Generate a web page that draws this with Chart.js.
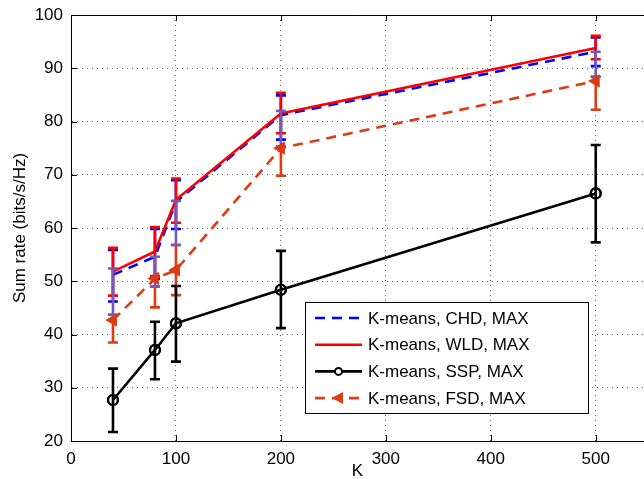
<!DOCTYPE html>
<html>
<head>
<meta charset="utf-8">
<script src="https://cdn.jsdelivr.net/npm/chart.js@4/dist/chart.umd.min.js"></script>
<style>
  html, body { margin: 0; padding: 0; background: #fff; }
  #wrap { width: 644px; height: 479px; position: relative; }
</style>
</head>
<body>
<div id="wrap"><canvas id="chart"></canvas></div>
<script>
// K values on the x axis
const kValues = [40, 80, 100, 200, 500];
const xTicks = [0, 100, 200, 300, 400, 500];
const yTicks = [20, 30, 40, 50, 60, 70, 80, 90, 100];

// K-means, CHD, MAX
const chd = [51.2, 54.6, 64.9, 81.2, 93.1];
const chdLo = [46.2, 50.5, 59.8, 76.6, 90.4];
const chdHi = [55.9, 59.8, 69.0, 84.9, 95.8];

// K-means, WLD, MAX
const wld = [51.8, 55.6, 65.3, 81.5, 93.8];
const wldLo = [47.3, 51.0, 61.0, 77.8, 91.7];
const wldHi = [56.3, 60.2, 69.3, 85.4, 96.1];

// K-means, SSP, MAX
const ssp = [27.7, 37.1, 42.1, 48.4, 66.5];
const sspLo = [21.7, 31.6, 34.9, 41.2, 57.3];
const sspHi = [33.6, 42.4, 49.1, 55.7, 75.6];

// K-means, FSD, MAX
const fsd = [42.7, 50.5, 52.1, 75.0, 87.6];
const fsdLo = [38.5, 45.1, 47.4, 69.8, 82.2];
const fsdHi = [43.7, 49.0, 56.8, 75.3, 88.4];

// purple overlap bars (from FSD top up to CHD centre)
const midLo = [43.7, 49.0, 56.8, 75.3, 88.4];
const midHi = [52.4, 54.6, 65.1, 82.0, 93.1];

const BLUE = '#0000ff';
const RED = '#ff0000';
const BLACK = '#000000';
const ORANGE = '#dc3b14';
const PURPLE = '#7459b7';
const FONT = '"Liberation Sans", Arial, Helvetica, sans-serif';

const toPoints = vals => kValues.map((k, i) => ({ x: k, y: vals[i] }));

const datasets = [
    {
        label: 'K-means, CHD, MAX',
        data: toPoints(chd),
        borderColor: BLUE,
        borderWidth: 2.6,
        borderDash: [10, 7],
        pointRadius: 0,
        order: 1,
        errLo: chdLo, errHi: chdHi
    },
    {
        label: 'K-means, WLD, MAX',
        data: toPoints(wld),
        borderColor: RED,
        borderWidth: 2.6,
        pointRadius: 0,
        order: 0,
        errLo: wldLo, errHi: wldHi
    },
    {
        label: 'K-means, SSP, MAX',
        data: toPoints(ssp),
        borderColor: BLACK,
        borderWidth: 2.6,
        pointStyle: 'circle',
        pointRadius: 5,
        pointBorderWidth: 2.2,
        pointBackgroundColor: 'rgba(0,0,0,0)',
        pointBorderColor: BLACK,
        order: 3,
        errLo: sspLo, errHi: sspHi
    },
    {
        label: 'K-means, FSD, MAX',
        data: toPoints(fsd),
        borderColor: ORANGE,
        borderWidth: 2.6,
        borderDash: [10, 7],
        pointStyle: 'triangle',
        pointRotation: 270,
        pointRadius: 6,
        pointBorderWidth: 1.5,
        pointBackgroundColor: ORANGE,
        pointBorderColor: ORANGE,
        order: 2,
        errLo: fsdLo, errHi: fsdHi
    }
];

function drawBar(ctx, x, yScale, lo, hi, color) {
    const yl = yScale.getPixelForValue(lo);
    const yh = yScale.getPixelForValue(hi);
    ctx.strokeStyle = color;
    ctx.lineWidth = 2.6;
    ctx.setLineDash([]);
    ctx.beginPath();
    ctx.moveTo(x, yl); ctx.lineTo(x, yh);
    ctx.moveTo(x - 5, yl); ctx.lineTo(x + 5, yl);
    ctx.moveTo(x - 5, yh); ctx.lineTo(x + 5, yh);
    ctx.stroke();
}

const extras = {
    id: 'extras',
    beforeDatasetsDraw(chart) {
        const { ctx, chartArea: a, scales: { x, y } } = chart;
        ctx.save();
        ctx.strokeStyle = '#000';
        ctx.lineWidth = 1;
        // top frame line
        ctx.beginPath();
        ctx.moveTo(a.left, a.top + 0.5); ctx.lineTo(a.right, a.top + 0.5);
        ctx.stroke();
        // inward ticks
        ctx.beginPath();
        xTicks.forEach(t => {
            const px = Math.round(x.getPixelForValue(t)) + 0.5;
            ctx.moveTo(px, a.bottom); ctx.lineTo(px, a.bottom - 6);
            ctx.moveTo(px, a.top); ctx.lineTo(px, a.top + 6);
        });
        yTicks.forEach(t => {
            const py = Math.round(y.getPixelForValue(t)) + 0.5;
            ctx.moveTo(a.left, py); ctx.lineTo(a.left + 6, py);
        });
        ctx.stroke();
        ctx.restore();
    },
    afterDatasetsDraw(chart) {
        const { ctx, scales: { x, y } } = chart;
        ctx.save();
        const order = [0, 1, 3];
        order.forEach(di => {
            const ds = chart.data.datasets[di];
            kValues.forEach((k, i) => {
                drawBar(ctx, x.getPixelForValue(k), y, ds.errLo[i], ds.errHi[i], ds.borderColor);
            });
        });
        kValues.forEach((k, i) => {
            drawBar(ctx, x.getPixelForValue(k), y, midLo[i], midHi[i], PURPLE);
        });
        const ssp = chart.data.datasets[2];
        kValues.forEach((k, i) => {
            drawBar(ctx, x.getPixelForValue(k), y, ssp.errLo[i], ssp.errHi[i], BLACK);
        });
        // redraw markers on top of the bars
        [2, 3].forEach(di => {
            chart.getDatasetMeta(di).data.forEach(pt => pt.draw(ctx, chart.chartArea));
        });
        ctx.restore();
    },
    afterDraw(chart) {
        const { ctx } = chart;
        const bx = 305, by = 302, bw = 283, bh = 111;
        ctx.save();
        ctx.fillStyle = '#fff';
        ctx.fillRect(bx, by, bw, bh);
        ctx.strokeStyle = '#000';
        ctx.lineWidth = 1;
        ctx.strokeRect(bx + 0.5, by + 0.5, bw, bh);
        ctx.font = '17px ' + FONT;
        ctx.textBaseline = 'middle';
        chart.data.datasets.forEach((ds, i) => {
            const ly = by + 16 + i * 26.7;
            ctx.strokeStyle = ds.borderColor;
            ctx.lineWidth = 2.6;
            ctx.setLineDash(ds.borderDash || []);
            ctx.beginPath();
            ctx.moveTo(315, ly); ctx.lineTo(362, ly);
            ctx.stroke();
            ctx.setLineDash([]);
            if (ds.pointStyle === 'circle') {
                ctx.lineWidth = 2;
                ctx.beginPath();
                ctx.arc(338.5, ly, 3.5, 0, Math.PI * 2);
                ctx.fillStyle = '#fff';
                ctx.fill();
                ctx.stroke();
            } else if (ds.pointStyle === 'triangle') {
                ctx.fillStyle = ds.borderColor;
                ctx.beginPath();
                ctx.moveTo(332, ly);
                ctx.lineTo(343, ly - 6);
                ctx.lineTo(343, ly + 6);
                ctx.closePath();
                ctx.fill();
            }
            ctx.fillStyle = '#000';
            ctx.fillText(ds.label, 368, ly + 1);
        });
        ctx.restore();
    }
};

new Chart(document.getElementById('chart').getContext('2d'), {
    type: 'line',
    data: { datasets: datasets },
    options: {
        responsive: true,
        maintainAspectRatio: false,
        animation: false,
        layout: { autoPadding: false, padding: { top: 15, right: 0, left: 0, bottom: 0 } },
        plugins: {
            legend: { display: false },
            tooltip: { enabled: false }
        },
        scales: {
            x: {
                type: 'linear',
                min: 0,
                max: 546,
                afterBuildTicks: s => { s.ticks = xTicks.map(v => ({ value: v })); },
                afterFit: s => { s.height = 38; s.paddingLeft = 0; s.paddingRight = 0; },
                ticks: { color: '#000', font: { family: FONT, size: 17 }, padding: 8, maxRotation: 0 },
                grid: { color: 'rgba(0,0,0,0.6)', lineWidth: 1, drawTicks: false },
                border: { display: true, color: '#000', width: 1, dash: [1, 4] },
                title: {
                    display: true, text: 'K', color: '#000',
                    font: { family: FONT, size: 17, lineHeight: 1 },
                    padding: { top: 0, bottom: -1 }
                }
            },
            y: {
                type: 'linear',
                min: 20,
                max: 100,
                afterBuildTicks: s => { s.ticks = yTicks.map(v => ({ value: v })); },
                afterFit: s => { s.width = 71; s.paddingTop = 0; s.paddingBottom = 0; },
                ticks: { color: '#000', font: { family: FONT, size: 17 }, padding: 8 },
                grid: { color: 'rgba(0,0,0,0.6)', lineWidth: 1, drawTicks: false },
                border: { display: true, color: '#000', width: 1, dash: [1, 4] },
                title: {
                    display: true, text: 'Sum rate (bits/s/Hz)', color: '#000',
                    font: { family: FONT, size: 17, lineHeight: 1 },
                    padding: { top: 11.5, bottom: 0 }
                }
            }
        }
    },
    plugins: [extras]
});
</script>
</body>
</html>
